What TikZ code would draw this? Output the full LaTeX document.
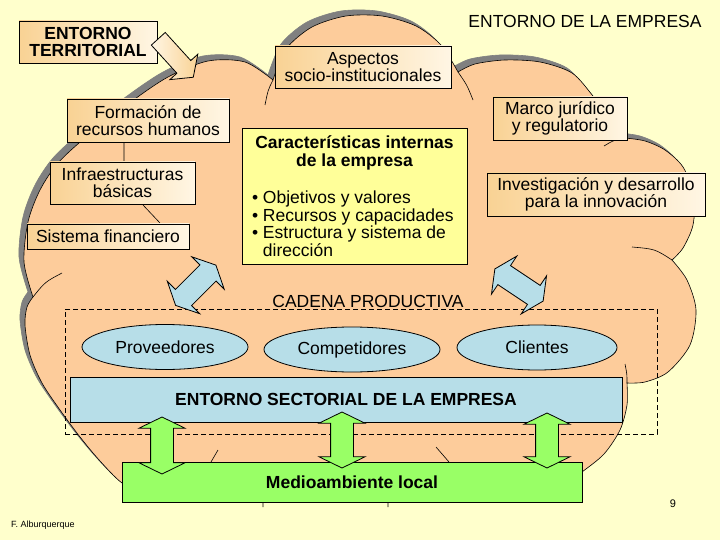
\documentclass[tikz,border=0pt]{standalone}
\usepackage{fontspec}
\setmainfont{Liberation Sans}
\usepackage{tikz}
\usetikzlibrary{shapes}
\usepackage{xcolor}
\definecolor{fondo}{RGB}{255,255,204}
\definecolor{nube}{RGB}{253,204,155}
\definecolor{sombra}{RGB}{128,128,128}
\definecolor{naranja}{RGB}{249,210,148}
\definecolor{crema}{RGB}{255,246,228}
\definecolor{amarillo}{RGB}{255,255,153}
\definecolor{celeste}{RGB}{183,222,232}
\definecolor{verde}{RGB}{153,255,102}
\newcommand{\letra}{\fontsize{17.5}{17.5}\selectfont}

\begin{document}
\begin{tikzpicture}[x=1pt,y=-1pt,
  every node/.style={font=\letra, inner sep=0pt},
  caja/.style={draw, line width=0.8pt, left color=naranja, right color=crema, align=center},
  ovalo/.style={draw, line width=0.8pt, ellipse, fill=celeste, minimum height=45pt},
  flechaazul/.style={double arrow, draw, line width=0.8pt, fill=celeste, inner xsep=0pt, inner ysep=11pt, double arrow head extend=11.5pt, double arrow tip angle=128},
  flechaverde/.style={flechaazul, fill=verde}]
\useasboundingbox (0,0) rectangle (720,540);
\fill[fondo] (0,0) rectangle (720,540);
\foreach \desp/\relleno/\borde in {-5/sombra/sombra, 0/nube/black}
\path[draw=\borde, line width=0.6pt, fill=\relleno, shift={(\desp,\desp)}]
  (33,297) -- plot[smooth] coordinates {(33,297) (24,262) (28,222) (40,190) (58,163) (86,137) (128,104) (168,77) (208,61) (245,62) (273,80)}
  -- plot[smooth] coordinates {(273,80) (286,49) (312,27) (346,16) (382,16) (416,26) (441,45) (458,72)}
  -- plot[smooth] coordinates {(458,72) (475,64) (505,60) (540,62) (572,73) (593,96) (610,118) (625,138)}
  -- plot[smooth] coordinates {(625,138) (645,141) (665,150) (683,167) (694,195) (693,225) (683,248) (672,260)}
  -- plot[smooth] coordinates {(672,260) (687,280) (696,310) (690,345) (668,372) (645,382) (627,383)}
  -- plot[smooth] coordinates {(627,383) (627,405) (620,430) (604,454) (582,472) (560,488) (535,498)}
  -- (150,498)
  -- plot[smooth] coordinates {(150,498) (122,483) (100,461) (80,437) (60,410) (42,383) (30,355) (25,325) (27,307) (33,297)}
  -- cycle;
\draw[line width=0.6pt] (273,80) .. controls (268,90) .. (265,105)
  (458,72) .. controls (467,85) .. (473,100)
  (625,138) .. controls (614,140) .. (604,146)
  (672,260) .. controls (655,249) .. (632,247)
  (627,383) .. controls (627,374) .. (625,364)
  (33,297) .. controls (45,282) .. (62,273)
  (124,142) -- (124,162)
  (143,205) -- (160,223)
  (218,450) -- (211,462)
  (436,447) -- (449,462)
  (263,500) -- (263,507)
  (388,500) -- (388,507);

\node (empresa) at (585,21) {ENTORNO DE LA EMPRESA};
\node[caja, font=\letra\bfseries, minimum width=138pt, minimum height=42pt] (territorial) at (88,42) {ENTORNO\\TERRITORIAL};
\node[single arrow, draw, line width=0.8pt, left color=crema, right color=naranja, minimum height=52pt, inner xsep=0pt, inner ysep=9pt, single arrow head extend=9.5pt, single arrow tip angle=107, anchor=tail, rotate=-47.7] (flechaterr) at (158,38.5) {};
\node[caja, minimum width=176pt, minimum height=42pt] (aspectos) at (363,67) {Aspectos\\socio-institucionales};
\node[caja, minimum width=134pt, minimum height=43pt] (marco) at (560,118.5) {Marco jurídico\\y regulatorio};
\node[caja, minimum width=218pt, minimum height=43pt] (idi) at (596,194.5) {Investigación y desarrollo\\para la innovación};
\node[caja, minimum width=162pt, minimum height=43pt] (formacion) at (148,120.5) {Formación de\\recursos humanos};
\node[caja, minimum width=145pt, minimum height=42pt] (infra) at (122.5,183) {Infraestructuras\\básicas};
\node[caja, minimum width=162pt, minimum height=25pt] (financiero) at (108,236.5) {Sistema financiero};
\node[draw, line width=0.8pt, fill=amarillo, minimum width=225pt, minimum height=136pt] (internas) at (354.5,196)
  {\begin{minipage}{205pt}\centering\bfseries Características internas\\de la empresa\par\vspace{20pt}\raggedright\mdseries
   \textbullet\ Objetivos y valores\\\textbullet\ Recursos y capacidades\\\textbullet\ Estructura y sistema de\\\phantom{\textbullet\ }dirección\end{minipage}};

\node[draw, dash pattern=on 5pt off 3pt, line width=0.7pt, minimum width=592pt, minimum height=125pt] (cadenarect) at (361,371.5) {};
\node (cadena) at (368,301.5) {CADENA PRODUCTIVA};
\node[flechaazul, minimum height=57pt, rotate=45] (azul1) at (195.75,285.25) {};
\node[flechaazul, minimum height=58pt, rotate=-33.7] (azul2) at (519,285) {};
\node[ovalo, minimum width=166pt] (proveedores) at (165,347) {Proveedores};
\node[ovalo, minimum width=176pt] (competidores) at (352,349.5) {Competidores};
\node[ovalo, minimum width=160pt] (clientes) at (537,347.5) {Clientes};
\node[draw, line width=0.8pt, fill=celeste, font=\letra\bfseries, minimum width=552pt, minimum height=45pt] (sectorial) at (346,399.5) {ENTORNO SECTORIAL DE LA EMPRESA};
\node[draw, line width=0.8pt, fill=verde, font=\letra\bfseries, minimum width=460pt, minimum height=40pt] (medio) at (352,482) {Medioambiente local};
\node[flechaverde, minimum height=57pt, rotate=90] (verde1) at (162,445.5) {};
\node[flechaverde, minimum height=56pt, rotate=90] (verde2) at (342,440) {};
\node[flechaverde, minimum height=55pt, rotate=90] (verde3) at (547,440.5) {};

\node[font=\fontsize{11}{11}\selectfont] (pagina) at (673,504) {9};
\node[font=\fontsize{9}{9}\selectfont, anchor=west] (autor) at (11,525) {F. Alburquerque};
\end{tikzpicture}
\end{document}
